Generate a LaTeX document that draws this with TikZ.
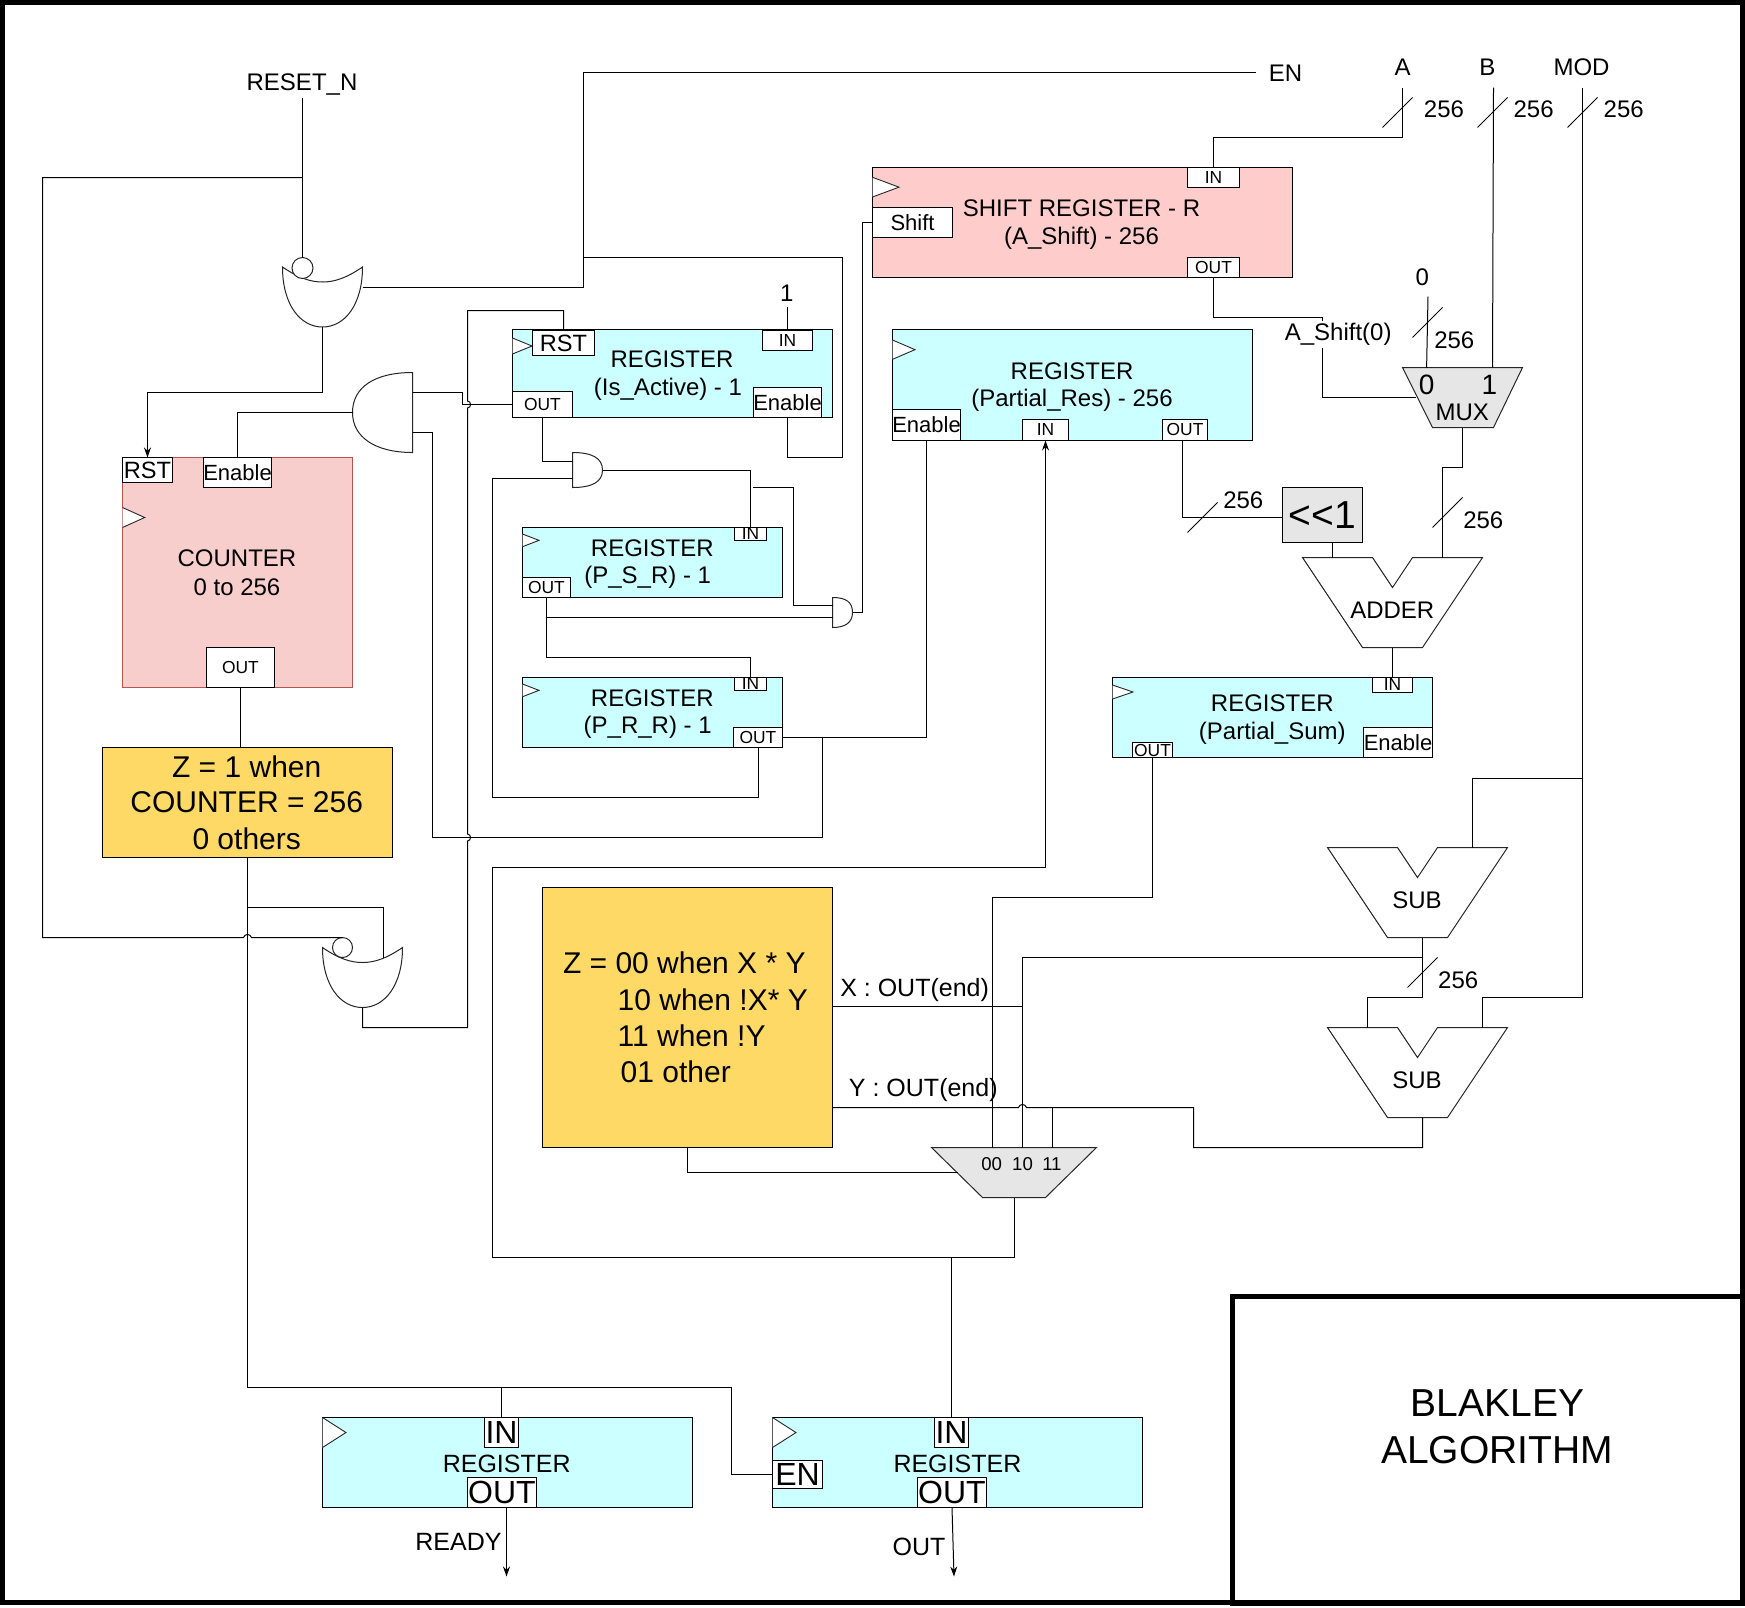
\documentclass[tikz,border=0pt]{standalone}
\usepackage{fontspec}
\setmainfont{Liberation Sans}
\definecolor{regc}{HTML}{CCFFFF}
\definecolor{shc}{HTML}{FFCCCC}
\definecolor{cntc}{HTML}{F8CECC}
\definecolor{cntb}{HTML}{B85450}
\definecolor{yelc}{HTML}{FFD966}
\definecolor{gryc}{HTML}{E6E6E6}
\usetikzlibrary{arrows.meta}
\tikzset{
  wire/.style={draw=black,line width=0.5pt,line join=miter},
  boxn/.style={draw=black,line width=0.5pt,inner sep=0pt,outer sep=0pt,align=center},
  port/.style={boxn,fill=white},
  reg/.style={boxn,fill=regc},
  clk/.style={draw=black!85,line width=0.45pt,fill=white},
  gate/.style={draw=black!85,line width=0.5pt,fill=white},
  lab/.style={inner sep=0pt,outer sep=0pt,align=center},
  arr/.style={wire,-{Stealth[length=5pt,width=3.5pt]}},
  fa/.style={font=\fontsize{8.7}{10}\selectfont},
  fb/.style={font=\fontsize{9.3}{11}\selectfont},
  fc/.style={font=\fontsize{11}{12}\selectfont},
  fd/.style={font=\fontsize{12}{14}\selectfont},
  fk/.style={font=\fontsize{11.8}{14}\selectfont},
  fj/.style={font=\fontsize{12.5}{14}\selectfont},
  fe/.style={font=\fontsize{16}{18}\selectfont},
  ff/.style={font=\fontsize{15}{17}\selectfont},
  fg/.style={font=\fontsize{19.5}{22}\selectfont},
  fh/.style={font=\fontsize{19.5}{24}\selectfont},
}
% box from two corners
\newcommand{\bx}[7]{\node[#1,minimum width={(#5-#3)*0.5pt},minimum height={(#6-#4)*0.5pt}] (#2) at ({(#3+#5)/2},{(#4+#6)/2}) {#7};}
\newcommand{\tx}[5]{\node[lab,#1] (#2) at (#3,{#4+1}) {#5};}
% clock triangle: x0,y1,y2,x1
\newcommand{\clkm}[4]{\filldraw[clk] (#1,#2) -- (#4,{(#2+#3)/2}) -- (#1,#3);}
% upside-down OR gate: centre x, top y
\newcommand{\orgate}[2]{\filldraw[gate] ({#1-40},#2) .. controls ({#1-24},{#2+11}) and ({#1-12},{#2+15}) .. (#1,{#2+15}) .. controls ({#1+12},{#2+15}) and ({#1+24},{#2+11}) .. ({#1+40},#2) .. controls ({#1+40},{#2+38}) and ({#1+22},{#2+60}) .. (#1,{#2+60}) .. controls ({#1-22},{#2+60}) and ({#1-40},{#2+38}) .. ({#1-40},#2) -- cycle;}
% subtractor/adder outline
\newcommand{\vgate}[9]{\filldraw[gate] (#1,#2) -- (#3,#2) -- (#4,#5) -- (#6,#2) -- (#7,#2) -- (#8,#9) -- ({#1+#7-#8},#9) -- cycle;}
\begin{document}
\begin{tikzpicture}[x=0.5pt,y=-0.5pt]
\useasboundingbox (0,0) rectangle (1745,1607);
% ---------- named free ends ----------
\coordinate (resetEnd) at (302.5,97.5);
\coordinate (enEnd) at (1256,72.5);
\coordinate (aEnd) at (1402.5,87.5);
\coordinate (bEnd) at (1493.5,87.5);
\coordinate (modEnd) at (1582.5,87.5);
\coordinate (zeroEnd) at (1428,296.5);
\coordinate (oneEnd) at (787.5,307);
\coordinate (inv1) at (302.5,268);
\coordinate (inv2) at (342.5,947.5);
\coordinate (orA) at (322.5,327);
\coordinate (orB) at (362.5,1007.5);
\coordinate (gapEnd) at (752.5,487.5);
\coordinate (readyEnd) at (506.5,1576.5);
\coordinate (outEnd) at (954,1576.5);
% ---------- registers ----------
\bx{reg}{rIs}{512.5}{329.5}{832.5}{417.5}{}
\bx{reg}{rPSR}{522.5}{527.5}{782.5}{597.5}{}
\bx{reg}{rPRR}{522.5}{677.5}{782.5}{747.5}{}
\bx{reg}{rRes}{892.5}{329.5}{1252.5}{440.5}{}
\bx{reg}{rSum}{1112.5}{677.5}{1432.5}{757.5}{}
\bx{reg}{rRdy}{322.5}{1417.5}{692.5}{1507.5}{}
\bx{reg}{rOut}{772.5}{1417.5}{1142.5}{1507.5}{}
\bx{boxn,fill=shc}{rSh}{872.5}{167.5}{1292.5}{277.5}{}
\bx{boxn,draw=cntb,fill=cntc}{rCnt}{122.5}{457.5}{352.5}{687.5}{}
\bx{boxn,fill=yelc,fc}{yel1}{102.5}{747.5}{392.5}{857.5}{}
\bx{boxn,fill=yelc}{yel2}{542.5}{887.5}{832.5}{1147.5}{}
\bx{boxn,fill=gryc,fg}{shl}{1282.5}{487.5}{1362.5}{542.5}{<{}<1}
% ---------- clocks ----------
\clkm{512.5}{338}{354}{532}
\clkm{522.5}{534}{546.7}{539}
\clkm{522.5}{684}{696.7}{539}
\clkm{892.5}{340}{359.3}{915}
\clkm{1112.5}{685}{699}{1133}
\clkm{322.5}{1417.5}{1447.5}{346}
\clkm{772.5}{1417.5}{1447.5}{796}
\clkm{872.5}{177.3}{197}{899}
\clkm{122.5}{507.5}{527.5}{144.7}
% ---------- gates ----------
\orgate{322.5}{267}
\orgate{362.5}{947.5}
\filldraw[gate] (inv1) circle[radius=10.5];
\filldraw[gate] (inv2) circle[radius=10];
\filldraw[gate] (412.5,372.5) -- (412.5,452.5) .. controls (375,452.5) and (352.5,437) .. (352.5,412.5) .. controls (352.5,387) and (375,372.5) .. (412.5,372.5) -- cycle;
\filldraw[gate] (572.5,452.5) -- (572.5,487.5) .. controls (592,487.5) and (602.5,482) .. (602.5,470) .. controls (602.5,458) and (592,452.5) .. (572.5,452.5) -- cycle;
\filldraw[gate] (832.5,597.5) -- (832.5,627.5) .. controls (846,627.5) and (852.5,622) .. (852.5,612.5) .. controls (852.5,602) and (846,597.5) .. (832.5,597.5) -- cycle;
\vgate{1302.5}{557.5}{1372.5}{1392.5}{587.5}{1412.5}{1482.5}{1422.5}{647.5}
\vgate{1327.5}{847.5}{1397.5}{1417.5}{877.5}{1437.5}{1507.5}{1447.5}{937.5}
\vgate{1327.5}{1027.5}{1397.5}{1417.5}{1057.5}{1437.5}{1507.5}{1447.5}{1117.5}
\filldraw[gate,fill=gryc] (1402.5,367.5) -- (1522.5,367.5) -- (1493.5,427.5) -- (1432.5,427.5) -- cycle;
\filldraw[gate,fill=gryc] (931.5,1147.5) -- (1096.5,1147.5) -- (1045.5,1197.5) -- (982.5,1197.5) -- cycle;
\coordinate (muxOut) at (1462.5,427.5);
\coordinate (mux2Out) at (1014.5,1197.5);
% ---------- port boxes ----------
\bx{port,fk}{cRst}{122.5}{457.5}{172.5}{482.5}{RST}
\bx{port,fc}{cEn}{203.5}{457.5}{271.5}{487.5}{Enable}
\bx{port,fa}{cOut}{206.5}{647.5}{274.5}{687.5}{OUT}
\bx{port,fk}{isRst}{532.5}{330.5}{594.5}{355.5}{RST}
\bx{port,fa}{isIn}{762.5}{330.5}{812.5}{350.5}{IN}
\bx{port,fc}{isEn}{753.5}{387.5}{821.5}{417.5}{Enable}
\bx{port,fa}{isOut}{512.5}{391.5}{572.5}{417.5}{OUT}
\bx{port,fa}{psIn}{734.5}{527.5}{766.5}{540.5}{IN}
\bx{port,fa}{psOut}{522.5}{577.5}{570.5}{597.5}{OUT}
\bx{port,fa}{prIn}{734.5}{677.5}{766.5}{690.5}{IN}
\bx{port,fa}{prOut}{733.5}{727.5}{782.5}{747.5}{OUT}
\bx{port,fc}{resEn}{892.5}{409.5}{960.5}{440.5}{Enable}
\bx{port,fa}{resIn}{1022.5}{419.5}{1068.5}{440.5}{IN}
\bx{port,fa}{resOut}{1162.5}{419.5}{1207.5}{440.5}{OUT}
\bx{port,fa}{sumIn}{1372.5}{677.5}{1412.5}{692.5}{IN}
\bx{port,fc}{sumEn}{1363.5}{727.5}{1432.5}{757.5}{Enable}
\bx{port,fa}{sumOut}{1132.5}{742.5}{1172.5}{757.5}{OUT}
\bx{port,fa}{shIn}{1187.5}{167.5}{1239.5}{187.5}{IN}
\bx{port,fa}{shOut}{1187.5}{257.5}{1239.5}{277.5}{OUT}
\bx{port,fc}{shSh}{872.5}{207.5}{952.5}{237.5}{Shift}
\bx{port,fe}{rdIn}{484.5}{1417.5}{518.5}{1447.5}{IN}
\bx{port,fe}{rdOut}{467.5}{1477.5}{536.5}{1507.5}{OUT}
\bx{port,fe}{ouIn}{934.5}{1417.5}{968.5}{1447.5}{IN}
\bx{port,fe}{ouOut}{917.5}{1477.5}{986.5}{1507.5}{OUT}
\bx{port,fe}{ouEn}{772.5}{1460.5}{822.5}{1488.5}{EN}
% ---------- wires ----------
\draw[wire] (resetEnd) -- (302.5,257.5);
\draw[wire] (302.5,177.5) -- (42.5,177.5) -- (42.5,937.5) -- (243.5,937.5) .. controls (244.5,933.5) and (250.5,933.5) .. (251.5,937.5) -- (342.5,937.5);
\draw[arr] (orA) -- (322.5,392.5) -- (147.5,392.5) -- (cRst.north);
\draw[wire] (362.5,287.5) -- (583.5,287.5) -- (583.5,72.5) -- (enEnd);
\draw[wire] (583.5,257.5) -- (842.5,257.5) -- (842.5,457.5) -- (787.5,457.5) -- (isEn.south);
\draw[wire] (352.5,412.5) -- (237.5,412.5) -- (cEn.north);
\draw[wire] (412.5,392.5) -- (462.5,392.5) -- (462.5,404.5) -- (isOut.west);
\draw[wire] (412.5,432.5) -- (432.5,432.5) -- (432.5,837.5) -- (822.5,837.5) -- (822.5,737.5);
\draw[wire] (orB) -- (362.5,1027.5) -- (467.5,1027.5) -- (467.5,841) .. controls (471.5,841) and (471.5,834) .. (467.5,834) -- (467.5,408) .. controls (471.5,408) and (471.5,401) .. (467.5,401) -- (467.5,310.5) -- (563.5,310.5) -- (isRst.north);
\draw[wire] (oneEnd) -- (isIn.north);
\draw[wire] (542.5,417.5) -- (542.5,461.5) -- (572.5,461.5);
\draw[wire] (572.5,478.5) -- (492.5,478.5) -- (492.5,797.5) -- (758.5,797.5) -- (758.5,747.5);
\draw[wire] (602.5,470.5) -- (750.5,470.5) -- (psIn.north);
\draw[wire] (gapEnd) -- (793.5,487.5) -- (793.5,605.5) -- (832.5,605.5);
\draw[wire] (852.5,612.5) -- (862.5,612.5) -- (862.5,222.5) -- (shSh.west);
\draw[wire] (psOut.south) -- (546.5,657.5) -- (750.5,657.5) -- (prIn.north);
\draw[wire] (546.5,617.5) -- (832.5,617.5);
\draw[wire] (prOut.east) -- (926.5,737.5) -- (resEn.south);
\draw[wire] (aEnd) -- (1402.5,137.5) -- (1213.5,137.5) -- (shIn.north);
\draw[wire] (bEnd) -- (1492.5,367.5);
\draw[wire] (zeroEnd) -- (1426.6,367.5);
\draw[wire] (shOut.south) -- (1213.5,317.5) -- (1322.5,317.5) -- (1322.5,397.5) -- (1415.9,397.5);
\draw[wire] (1182.5,440.5) -- (1182.5,517.5) -- (shl.west |- 0,517.5);
\draw[wire] (1332.5,542.5) -- (1332.5,557.5);
\draw[wire] (1442.5,557.5) -- (1442.5,467.5) -- (1462.5,467.5) -- (muxOut);
\draw[wire] (1392.5,647.5) -- (sumIn.north);
\draw[wire] (sumOut.south) -- (1152.5,897.5) -- (992.5,897.5) -- (992.5,1147.5);
\draw[wire] (1422.5,937.5) -- (1422.5,957.5) -- (1022.5,957.5) -- (1022.5,1147.5);
\draw[wire] (1422.5,957.5) -- (1422.5,997.5) -- (1367.5,997.5) -- (1367.5,1027.5);
\draw[wire] (modEnd) -- (1582.5,997.5) -- (1482.5,997.5) -- (1482.5,1027.5);
\draw[wire] (1582.5,778.5) -- (1472.5,778.5) -- (1472.5,847.5);
\draw[wire] (832.5,1006.5) -- (1022.5,1006.5);
\draw[wire] (832.5,1107.5) -- (1018.5,1107.5) .. controls (1019.5,1103.5) and (1025.5,1103.5) .. (1026.5,1107.5) -- (1193.5,1107.5) -- (1193.5,1147.5) -- (1422.5,1147.5) -- (1422.5,1117.5);
\draw[wire] (1052.5,1107.5) -- (1052.5,1147.5);
\draw[wire] (687.5,1147.5) -- (687.5,1172.5) -- (957.5,1172.5);
\draw[wire] (mux2Out) -- (1014.5,1257.5) -- (492.5,1257.5) -- (492.5,867.5) -- (1045.5,867.5);
\draw[arr] (1045.5,867.5) -- (resIn.south);
\draw[wire] (951.5,1257.5) -- (ouIn.north);
\draw[wire] (cOut.south) -- (240.5,747.5);
\draw[wire] (247.5,857.5) -- (247.5,1387.5) -- (731.5,1387.5) -- (731.5,1474.5) -- (ouEn.west);
\draw[wire] (501.5,1387.5) -- (rdIn.north);
\draw[wire] (247.5,907.5) -- (383.5,907.5) -- (383.5,958);
\draw[arr] (506.5,1507.5) -- (readyEnd);
\draw[arr] (952,1507.5) -- (outEnd);
% bus slashes
\draw[wire] (1382.5,127.5) -- (1412.5,97.5);
\draw[wire] (1477.5,127.5) -- (1507.5,97.5);
\draw[wire] (1567.5,127.5) -- (1597.5,97.5);
\draw[wire] (1412.5,337.5) -- (1442.5,307.5);
\draw[wire] (1187.5,532.5) -- (1217.5,502.5);
\draw[wire] (1432.5,527.5) -- (1462.5,497.5);
\draw[wire] (1407.5,987.5) -- (1437.5,957.5);
% ---------- labels ----------
\tx{fd}{tReset}{302}{83.5}{RESET\_N}
\tx{fd}{tEn}{1285.5}{72}{EN}
\tx{fd}{tA}{1402.5}{66.7}{A}
\tx{fd}{tB}{1487.3}{66.7}{B}
\tx{fd}{tMod}{1581.5}{66.7}{MOD}
\tx{fd}{t256a}{1444}{108.3}{256}
\tx{fd}{t256b}{1533.6}{108.3}{256}
\tx{fd}{t256c}{1623.7}{108.7}{256}
\tx{fd}{t256d}{1454.3}{339}{256}
\tx{fd}{t256e}{1243.3}{499.3}{256}
\tx{fd}{t256f}{1483.3}{519.3}{256}
\tx{fd}{t256g}{1458.2}{979.3}{256}
\tx{fd}{tZero}{1422.2}{276.7}{0}
\tx{fd}{tOne}{786.7}{292}{1}
\node[lab,fd,fill=white,inner ysep=1pt] (tAsh) at (1338.2,334.5) {A\_Shift(0)};
\tx{fd}{t1a}{672}{358.7}{REGISTER}
\tx{fd}{t1b}{668}{388}{(Is\_Active) - 1}
\tx{fd}{t2a}{652.3}{547.3}{REGISTER}
\tx{fd}{t2b}{647.7}{576.7}{(P\_S\_R) - 1}
\tx{fd}{t3a}{652.3}{697.3}{REGISTER}
\tx{fd}{t3b}{647.7}{726.7}{(P\_R\_R) - 1}
\tx{fd}{t4a}{1072}{370}{REGISTER}
\tx{fd}{t4b}{1072}{399}{(Partial\_Res) - 256}
\tx{fd}{t5a}{1272.3}{702.3}{REGISTER}
\tx{fd}{t5b}{1272.3}{732.3}{(Partial\_Sum)}
\tx{fd}{t6a}{1081.5}{207.3}{SHIFT REGISTER - R}
\tx{fd}{t6b}{1081.5}{237.5}{(A\_Shift) - 256}
\tx{fd}{t7a}{237}{557.6}{COUNTER}
\tx{fd}{t7b}{237}{586.5}{0 to 256}
\tx{fj}{t8}{506.7}{1463.3}{REGISTER}
\tx{fj}{t9}{957.4}{1463.3}{REGISTER}
\tx{fd}{tAdd}{1392.3}{609.3}{ADDER}
\tx{fd}{tSub1}{1417}{899.3}{SUB}
\tx{fd}{tSub2}{1417}{1079.3}{SUB}
\tx{fd}{tMux}{1462.3}{411.7}{MUX}
\tx{ff}{tM0}{1426.6}{384.3}{\fontsize{14}{16}\selectfont 0}
\tx{ff}{tM1}{1489.5}{384.3}{\fontsize{14}{16}\selectfont 1}
\tx{fb}{tS00}{991.7}{1162.7}{00}
\tx{fb}{tS10}{1022.5}{1162.7}{10}
\tx{fb}{tS11}{1051.9}{1162.7}{11}
\tx{fj}{tX}{914.6}{989.3}{X : OUT(end)}
\tx{fj}{tY}{923.3}{1089.3}{Y : OUT(end)}
\tx{fj}{tRdy}{458.5}{1540.7}{READY}
\tx{fj}{tOut}{919}{1546}{OUT}
\tx{ff}{tZ1}{246.7}{766}{Z = 1 when}
\tx{ff}{tZ2}{246.7}{801}{COUNTER = 256}
\tx{ff}{tZ3}{246.7}{837.7}{0 others}
\node[lab,ff,anchor=west] (tY1) at (563,963) {Z = 00 when X * Y};
\node[lab,ff,anchor=west] (tY2) at (617.7,999.4) {10 when !X* Y};
\node[lab,ff,anchor=west] (tY3) at (617.7,1035.5) {11 when !Y};
\node[lab,ff,anchor=west] (tY4) at (620.7,1071.7) {01 other};
% ---------- frame and title ----------
\draw[line width=2.5pt] (2.5,2.5) rectangle (1742.5,1602);
\draw[line width=2.5pt] (1232.5,1296.5) rectangle (1742.5,1603.5);
\tx{fh}{tT1}{1497.5}{1402.5}{BLAKLEY}
\tx{fh}{tT2}{1497}{1449}{ALGORITHM}
\end{tikzpicture}
\end{document}
